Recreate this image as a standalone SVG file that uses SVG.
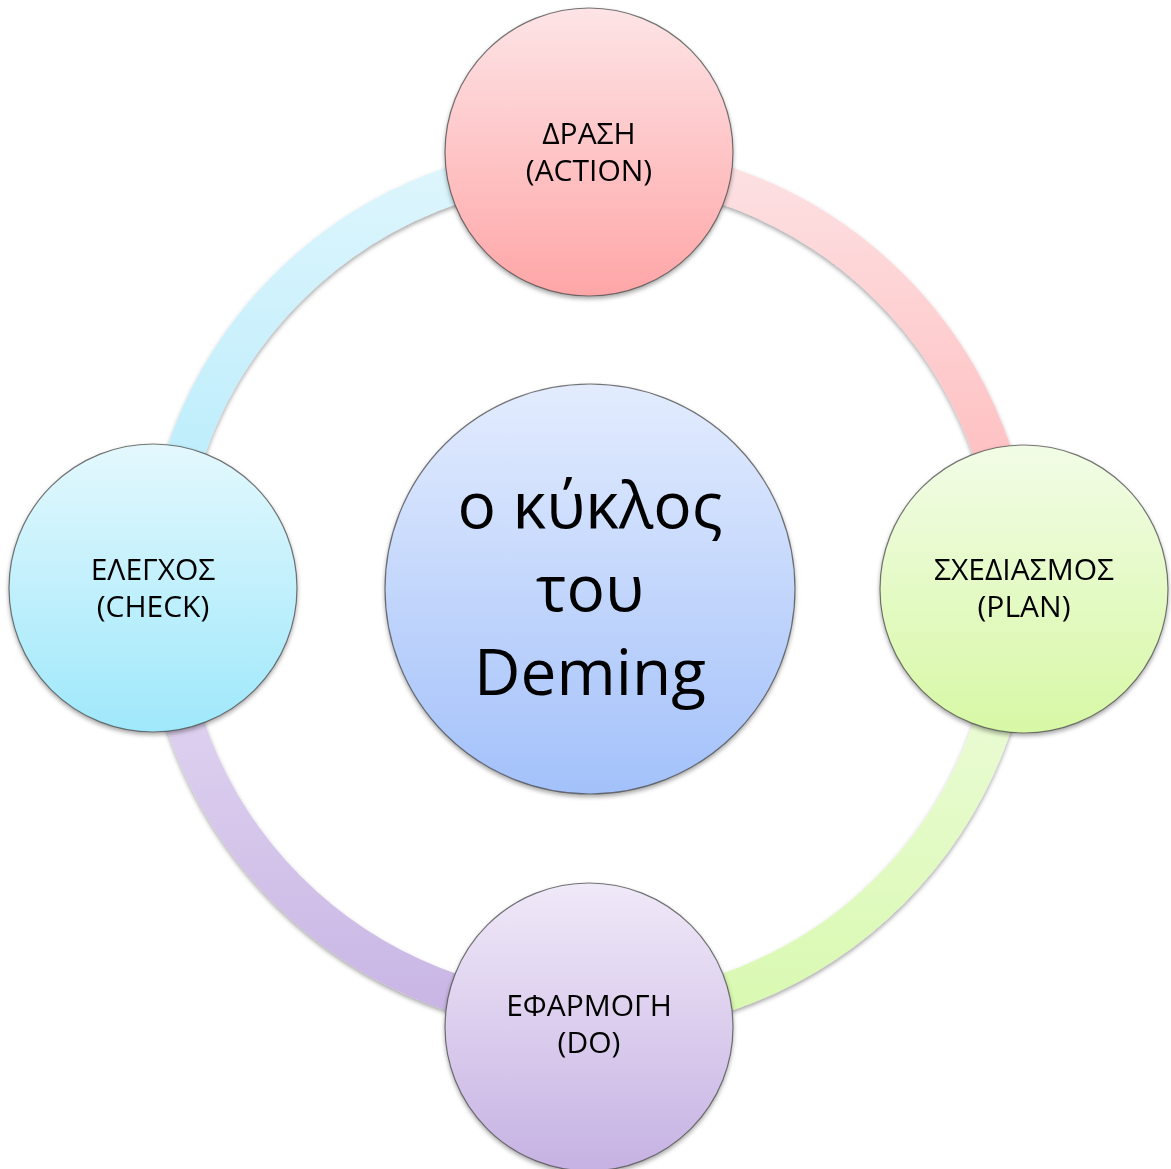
<svg xmlns="http://www.w3.org/2000/svg" width="1171" height="1169" viewBox="0 0 1171 1169">
<defs>
<style>
.lbl{font-family:"Open Sans","Noto Sans","DejaVu Sans",sans-serif;font-size:30px;fill:#000;text-anchor:middle}
.big{font-family:"Open Sans","Noto Sans","DejaVu Sans",sans-serif;font-size:64px;fill:#000;text-anchor:middle}
.node{stroke:#4a4a4a;stroke-opacity:0.75;stroke-width:1.2}
.arc{fill:none;stroke-width:38}
</style>
<filter id="sh" filterUnits="userSpaceOnUse" x="0" y="0" width="1171" height="1169">
<feDropShadow dx="0" dy="2.5" stdDeviation="2" flood-color="#000" flood-opacity="0.35"/>
</filter>
<linearGradient id="gPinkArc" gradientUnits="userSpaceOnUse" x1="0" y1="144" x2="0" y2="589"><stop offset="0" stop-color="#FDE3E5"/><stop offset="1" stop-color="#FFB3B4"/></linearGradient>
<linearGradient id="gGreenArc" gradientUnits="userSpaceOnUse" x1="0" y1="589" x2="0" y2="1034"><stop offset="0" stop-color="#F0FCE2"/><stop offset="1" stop-color="#D8F9AE"/></linearGradient>
<linearGradient id="gPurpleArc" gradientUnits="userSpaceOnUse" x1="0" y1="589" x2="0" y2="1034"><stop offset="0" stop-color="#E6DDF3"/><stop offset="1" stop-color="#C7B3E4"/></linearGradient>
<linearGradient id="gBlueArc" gradientUnits="userSpaceOnUse" x1="0" y1="144" x2="0" y2="589"><stop offset="0" stop-color="#E0F6FD"/><stop offset="1" stop-color="#B0EAFB"/></linearGradient>
<linearGradient id="gTop" x1="0" y1="0" x2="0" y2="1"><stop offset="0" stop-color="#FDE4E6"/><stop offset="1" stop-color="#FFA6A7"/></linearGradient>
<linearGradient id="gRight" x1="0" y1="0" x2="0" y2="1"><stop offset="0" stop-color="#F2FCE6"/><stop offset="1" stop-color="#D7F8A5"/></linearGradient>
<linearGradient id="gBottom" x1="0" y1="0" x2="0" y2="1"><stop offset="0" stop-color="#F0E9F8"/><stop offset="1" stop-color="#C6B2E3"/></linearGradient>
<linearGradient id="gLeft" x1="0" y1="0" x2="0" y2="1"><stop offset="0" stop-color="#E3F8FD"/><stop offset="1" stop-color="#9FE8FB"/></linearGradient>
<linearGradient id="gCenter" x1="0" y1="0" x2="0" y2="1"><stop offset="0" stop-color="#E3ECFE"/><stop offset="1" stop-color="#A3C1FA"/></linearGradient>
</defs>
<rect width="1171" height="1169" fill="#fff"/>
<g id="connectors" filter="url(#sh)">
<path class="arc" stroke="url(#gPinkArc)" d="M 589 163 A 426 426 0 0 1 1015 589"/>
<path class="arc" stroke="url(#gGreenArc)" d="M 1015 589 A 426 426 0 0 1 589 1015"/>
<path class="arc" stroke="url(#gPurpleArc)" d="M 589 1015 A 426 426 0 0 1 163 589"/>
<path class="arc" stroke="url(#gBlueArc)" d="M 163 589 A 426 426 0 0 1 589 163"/>
</g>
<g id="center" filter="url(#sh)">
<circle class="node" cx="590" cy="589" r="205" fill="url(#gCenter)"/>
<text class="big" x="590" y="528">ο κύκλος</text>
<text class="big" x="590" y="611">του</text>
<text class="big" x="590" y="695">Deming</text>
</g>
<g id="action" filter="url(#sh)">
<circle class="node" cx="589" cy="152" r="144" fill="url(#gTop)"/>
<text class="lbl" x="589" y="144">ΔΡΑΣΗ</text>
<text class="lbl" x="589" y="181">(ACTION)</text>
</g>
<g id="plan" filter="url(#sh)">
<circle class="node" cx="1024" cy="589" r="144" fill="url(#gRight)"/>
<text class="lbl" x="1024" y="580">ΣΧΕΔΙΑΣΜΟΣ</text>
<text class="lbl" x="1024" y="617">(PLAN)</text>
</g>
<g id="do" filter="url(#sh)">
<circle class="node" cx="589" cy="1027" r="144" fill="url(#gBottom)"/>
<text class="lbl" x="589" y="1016">ΕΦΑΡΜΟΓΗ</text>
<text class="lbl" x="589" y="1053">(DO)</text>
</g>
<g id="check" filter="url(#sh)">
<circle class="node" cx="153" cy="588" r="144" fill="url(#gLeft)"/>
<text class="lbl" x="153" y="580">ΕΛΕΓΧΟΣ</text>
<text class="lbl" x="153" y="617">(CHECK)</text>
</g>
</svg>
